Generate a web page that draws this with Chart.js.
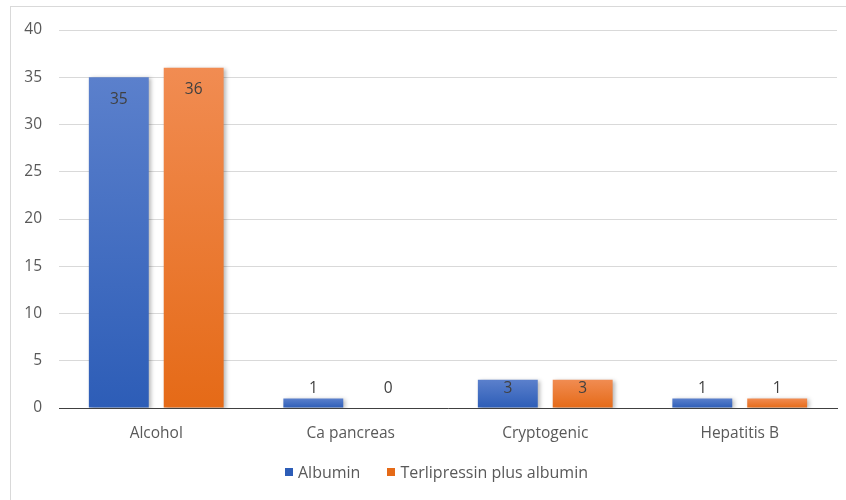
<!DOCTYPE html>
<html lang="en">
<head>
  <meta charset="UTF-8">
  <title>Aetiology by treatment group</title>
  <style>
    body {
      margin: 0;
      padding: 0;
      background-color: #ffffff;
      font-family: 'Open Sans', sans-serif;
    }
    .frame {
      position: absolute;
      left: 10px;
      top: 6px;
      width: 850px;
      height: 510px;
      border: 1px solid #d9d9d9;
    }
    #causeChart {
      position: absolute;
      left: 0;
      top: 0;
    }
    .legend {
      position: absolute;
      left: 285px;
      top: 461px;
      display: flex;
      align-items: center;
      font-size: 16px;
      color: #595959;
    }
    .legend span.box {
      display: inline-block;
      width: 8px;
      height: 8px;
      margin-right: 5px;
    }
    .legend .item {
      display: flex;
      align-items: center;
      margin-right: 27px;
    }
  </style>
</head>
<body>
  <div class="frame"></div>
  <canvas id="causeChart" width="846" height="500"></canvas>
  <div class="legend" id="legend"></div>

  <script src="https://cdn.jsdelivr.net/npm/chart.js"></script>
  <script>
    // Aetiology counts per treatment group
    const causes = ['Alcohol', 'Ca pancreas', 'Cryptogenic', 'Hepatitis B'];
    const albumin = [35, 1, 3, 1];
    const terliAlbumin = [36, 0, 3, 1];
    const seriesNames = ['Albumin', 'Terlipressin plus albumin'];
    const yTicks = [0, 5, 10, 15, 20, 25, 30, 35, 40];

    // top / bottom colours of the bar gradients
    const blueShades = ['#5b80cc', '#2d5db7'];
    const orangeShades = ['#f18c52', '#e56a17'];

    function barFill(shades) {
      return function (ctx) {
        const chart = ctx.chart;
        const y = chart.scales.y;
        if (!chart.chartArea || !y || ctx.parsed === undefined) return shades[1];
        const top = y.getPixelForValue(ctx.parsed.y);
        const base = y.getPixelForValue(0);
        if (base - top < 1) return shades[1];
        const g = chart.ctx.createLinearGradient(0, top, 0, base);
        g.addColorStop(0, shades[0]);
        g.addColorStop(1, shades[1]);
        return g;
      };
    }

    // soft shadow under the bars plus value labels
    const barExtras = {
      id: 'barExtras',
      beforeDatasetsDraw(chart) {
        const c = chart.ctx;
        c.save();
        c.shadowColor = 'rgba(0,0,0,0.28)';
        c.shadowBlur = 4;
        c.shadowOffsetX = 2;
        c.shadowOffsetY = 1;
      },
      afterDatasetsDraw(chart) {
        const c = chart.ctx;
        c.restore();
        c.save();
        c.font = '15.5px "Open Sans", sans-serif';
        c.fillStyle = '#404040';
        c.textAlign = 'center';
        c.textBaseline = 'middle';
        chart.data.datasets.forEach((ds, i) => {
          chart.getDatasetMeta(i).data.forEach((bar, j) => {
            const h = bar.base - bar.y;
            const ty = h > 40 ? bar.y + 22 : bar.base - 19;
            c.fillText(String(ds.data[j]), bar.x, ty);
          });
        });
        c.restore();
      }
    };

    new Chart(document.getElementById('causeChart'), {
      type: 'bar',
      data: {
        labels: causes,
        datasets: [{
          label: seriesNames[0],
          data: albumin,
          backgroundColor: barFill(blueShades),
          categoryPercentage: 0.77,
          barPercentage: 0.8
        }, {
          label: seriesNames[1],
          data: terliAlbumin,
          backgroundColor: barFill(orangeShades),
          categoryPercentage: 0.77,
          barPercentage: 0.8
        }]
      },
      options: {
        responsive: false,
        animation: false,
        layout: {
          padding: { left: 0, top: 30, right: 9, bottom: 0 }
        },
        plugins: {
          legend: { display: false },
          tooltip: { enabled: false }
        },
        scales: {
          x: {
            grid: { display: false, drawTicks: false },
            border: { color: '#404040', width: 1 },
            ticks: {
              padding: 16,
              color: '#595959',
              font: { family: 'Open Sans', size: 15.5 }
            },
            afterFit(scale) { scale.height = 92; }
          },
          y: {
            min: 0,
            max: 40,
            afterBuildTicks(scale) {
              scale.ticks = yTicks.map(v => ({ value: v }));
            },
            grid: { color: '#d9d9d9', drawTicks: false },
            border: { display: false },
            ticks: {
              padding: 17,
              color: '#595959',
              font: { family: 'Open Sans', size: 15.5 }
            },
            afterFit(scale) { scale.width = 59; }
          }
        }
      },
      plugins: [barExtras]
    });

    // legend under the plot
    const legendEl = document.getElementById('legend');
    [blueShades, orangeShades].forEach((shades, i) => {
      const item = document.createElement('div');
      item.className = 'item';
      const box = document.createElement('span');
      box.className = 'box';
      box.style.background = shades[1];
      item.appendChild(box);
      item.appendChild(document.createTextNode(seriesNames[i]));
      legendEl.appendChild(item);
    });
  </script>
</body>
</html>
